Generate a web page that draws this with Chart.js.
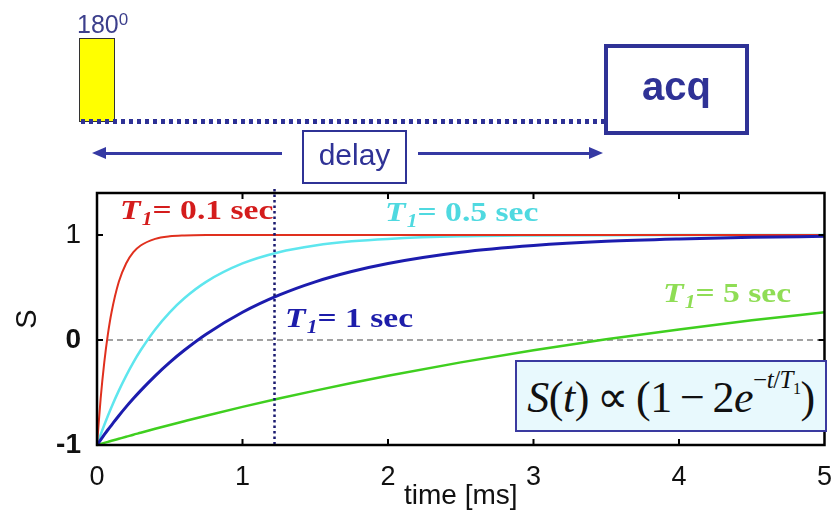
<!DOCTYPE html>
<html lang="en">
<head>
<meta charset="UTF-8" />
<title>Inversion recovery S(t)</title>
<script src="https://cdn.jsdelivr.net/npm/chart.js"></script>
<style>
  body { margin: 0; background: #fff; font-family: "Liberation Sans", Arial, sans-serif; }
  #wrap { position: relative; width: 840px; height: 513px; overflow: hidden; }
  #wrap canvas { position: absolute; left: 0; top: 0; }
  .abs { position: absolute; box-sizing: border-box; }
  .deg { left: 77px; top: 12px; font-size: 25px; line-height: 25px; color: #3c3f8c; }
  .deg sup { font-size: 17px; position: relative; top: -5px; vertical-align: top; }
  .pulse { left: 79px; top: 38px; width: 36px; height: 84px; background: #ffff00; border: 1.5px solid #333; }
  .dots { left: 81px; top: 119px; width: 524px; height: 5px;
          background: repeating-linear-gradient(90deg, #2f3296 0 4px, transparent 4px 8px); }
  .acq { left: 604px; top: 44px; width: 145px; height: 91px; border: 4px solid #2f3296;
         display: flex; align-items: center; justify-content: center;
         font-weight: bold; font-size: 40px; color: #2f3296; padding-bottom: 6px; }
  .delay { left: 302px; top: 130px; width: 105px; height: 54px; border: 2px solid #2f3296;
           display: flex; align-items: center; justify-content: center;
           font-size: 30px; color: #2f3296; padding-bottom: 4px; }
  .line { height: 3px; top: 152px; background: #3539a3; }
  .head { width: 0; height: 0; top: 147px; border-top: 6.5px solid transparent; border-bottom: 6.5px solid transparent; }
  .lbl { font-family: "Liberation Serif", "Times New Roman", serif; font-weight: bold; font-size: 28px;
         line-height: 28px; white-space: nowrap; transform-origin: left center; transform: scaleX(1.2); }
  .lbl sub { font-size: 18px; vertical-align: -6px; margin-left: 1px; }
  .formula { left: 515px; top: 360px; width: 312px; height: 72px; border: 2px solid #3a3aa0; background: #e8f9fd;
             display: flex; align-items: center; justify-content: center;
             font-family: "Liberation Serif", "Times New Roman", serif; font-size: 44px; color: #111;
             white-space: nowrap; letter-spacing: -0.5px; padding-top: 2px; }
  .formula sup { font-size: 25px; position: relative; top: -8px; }
  .formula sup sub { font-size: 16px; }
</style>
</head>
<body>
<div id="wrap">
  <canvas id="chart" width="840" height="513"></canvas>

  <div class="abs deg">180<sup>0</sup></div>
  <div class="abs pulse"></div>
  <div class="abs dots"></div>
  <div class="abs acq">acq</div>
  <div class="abs line" style="left:104px;width:178px"></div>
  <div class="abs head" style="left:92px;border-right:14px solid #3539a3"></div>
  <div class="abs delay">delay</div>
  <div class="abs line" style="left:418px;width:172px"></div>
  <div class="abs head" style="left:589px;border-left:14px solid #3539a3"></div>

  <div id="labels"></div>
  <div class="abs formula"><span><i>S</i>(<i>t</i>)&thinsp;&prop;&thinsp;(1&thinsp;&minus;&thinsp;2<i>e</i><sup>&minus;<i>t</i>/<i>T</i><sub>1</sub></sup>)</span></div>
</div>

<script>
  // time axis (ms) and signal for each T1
  const times = [0, 0.025, 0.05, 0.075, 0.1, 0.15, 0.2, 0.25, 0.3, 0.4, 0.5, 0.6, 0.75,
                 1, 1.25, 1.5, 1.75, 2, 2.5, 3, 3.5, 4, 4.5, 5];
  const sT01 = [-1, -0.558, -0.213, 0.055, 0.264, 0.554, 0.729, 0.836, 0.900, 0.963, 0.987, 0.995, 0.999,
                1, 1, 1, 1, 1, 1, 1, 1, 1, 1, 1];
  const sT05 = [-1, -0.902, -0.810, -0.721, -0.637, -0.482, -0.341, -0.213, -0.098, 0.101, 0.264, 0.398, 0.554,
                0.729, 0.836, 0.900, 0.940, 0.963, 0.987, 0.995, 0.998, 0.999, 1.0, 1.0];
  const sT1  = [-1, -0.951, -0.902, -0.855, -0.810, -0.721, -0.637, -0.558, -0.482, -0.341, -0.213, -0.098, 0.055,
                0.264, 0.427, 0.554, 0.652, 0.729, 0.836, 0.900, 0.940, 0.963, 0.978, 0.987];
  const sT5  = [-1, -0.990, -0.980, -0.970, -0.960, -0.941, -0.922, -0.902, -0.884, -0.846, -0.810, -0.774, -0.721,
                -0.637, -0.558, -0.482, -0.409, -0.341, -0.213, -0.098, 0.007, 0.101, 0.187, 0.264];

  const xTicks = [0, 1, 2, 3, 4, 5];
  const yTicks = [-1, 0, 1];
  const delayTime = 1.22;

  const series = [
    { name: '1',   values: sT1,  color: '#1c1cae', label: '#1d1daa', width: 3,   pos: [285, 304] },
    { name: '0.1', values: sT01, color: '#e0301e', label: '#d41c1c', width: 2,   pos: [120, 196] },
    { name: '0.5', values: sT05, color: '#5ee6ee', label: '#4fd9e0', width: 2.5, pos: [385, 198] },
    { name: '5',   values: sT5,  color: '#3fcf1f', label: '#8fdd55', width: 2.5, pos: [663, 279] }
  ];

  // curve labels
  const labelBox = document.getElementById('labels');
  series.forEach(s => {
    const d = document.createElement('div');
    d.className = 'abs lbl';
    d.style.left = s.pos[0] + 'px';
    d.style.top = s.pos[1] + 'px';
    d.style.color = s.label;
    d.innerHTML = '<i>T</i><sub><i>1</i></sub>= ' + s.name + ' sec';
    labelBox.appendChild(d);
  });

  const framePlugin = {
    id: 'frame',
    beforeDatasetsDraw(chart) {
      const { ctx, chartArea: a, scales: { y } } = chart;
      const y0 = y.getPixelForValue(0);
      ctx.save();
      ctx.strokeStyle = '#444';
      ctx.lineWidth = 1.2;
      ctx.setLineDash([6, 4]);
      ctx.beginPath();
      ctx.moveTo(a.left, y0);
      ctx.lineTo(a.right, y0);
      ctx.stroke();
      ctx.restore();
    },
    afterDatasetsDraw(chart) {
      const { ctx, chartArea: a, scales: { x, y } } = chart;
      ctx.save();
      // delay marker
      const xd = x.getPixelForValue(delayTime);
      ctx.strokeStyle = '#1a1a70';
      ctx.lineWidth = 2.5;
      ctx.setLineDash([2.5, 3]);
      ctx.beginPath();
      ctx.moveTo(xd, a.top - 4);
      ctx.lineTo(xd, a.bottom);
      ctx.stroke();
      ctx.setLineDash([]);
      // box + inner ticks
      ctx.strokeStyle = '#000';
      ctx.lineWidth = 2.5;
      ctx.strokeRect(a.left, a.top, a.right - a.left, a.bottom - a.top);
      ctx.lineWidth = 2;
      ctx.beginPath();
      xTicks.slice(1, -1).forEach(v => {
        const px = x.getPixelForValue(v);
        ctx.moveTo(px, a.bottom); ctx.lineTo(px, a.bottom - 6);
        ctx.moveTo(px, a.top); ctx.lineTo(px, a.top + 6);
      });
      [0, 1].forEach(v => {
        const py = y.getPixelForValue(v);
        ctx.moveTo(a.left, py); ctx.lineTo(a.left + 6, py);
        ctx.moveTo(a.right, py); ctx.lineTo(a.right - 6, py);
      });
      ctx.stroke();
      ctx.restore();
    }
  };

  new Chart(document.getElementById('chart'), {
    type: 'line',
    data: {
      datasets: series.map(s => ({
        label: 'T1 = ' + s.name + ' sec',
        data: times.map((t, i) => ({ x: t, y: s.values[i] })),
        borderColor: s.color,
        borderWidth: s.width,
        pointRadius: 0,
        cubicInterpolationMode: 'monotone',
        clip: false
      }))
    },
    options: {
      responsive: false,
      animation: false,
      layout: { padding: { top: 193, right: 8, left: 0, bottom: 0 } },
      plugins: { legend: { display: false }, tooltip: { enabled: false } },
      scales: {
        x: {
          type: 'linear', min: 0, max: 5,
          afterFit(s) { s.height = 68; },
          afterBuildTicks(s) { s.ticks = xTicks.map(v => ({ value: v })); },
          grid: { display: false }, border: { display: false },
          ticks: { color: '#111', padding: 8, maxRotation: 0,
                   font: { family: 'Liberation Sans', size: 27 } },
          title: { display: true, text: 'time [ms]', color: '#111',
                   font: { family: 'Liberation Sans', size: 28 }, padding: { top: 0, bottom: 0 } }
        },
        y: {
          min: -1, max: 1.4,
          afterFit(s) { s.width = 97; },
          afterBuildTicks(s) { s.ticks = yTicks.map(v => ({ value: v })); },
          grid: { display: false }, border: { display: false },
          ticks: { color: '#111', padding: 8,
                   font: ctx => ({ family: 'Liberation Sans', size: 28,
                                   weight: ctx.tick && ctx.tick.value === 1 ? 'normal' : 'bold' }) },
          title: { display: true, text: 'S', color: '#111',
                   font: { family: 'Liberation Sans', size: 29 }, padding: { top: 11, bottom: 0 } }
        }
      }
    },
    plugins: [framePlugin]
  });
</script>
</body>
</html>
